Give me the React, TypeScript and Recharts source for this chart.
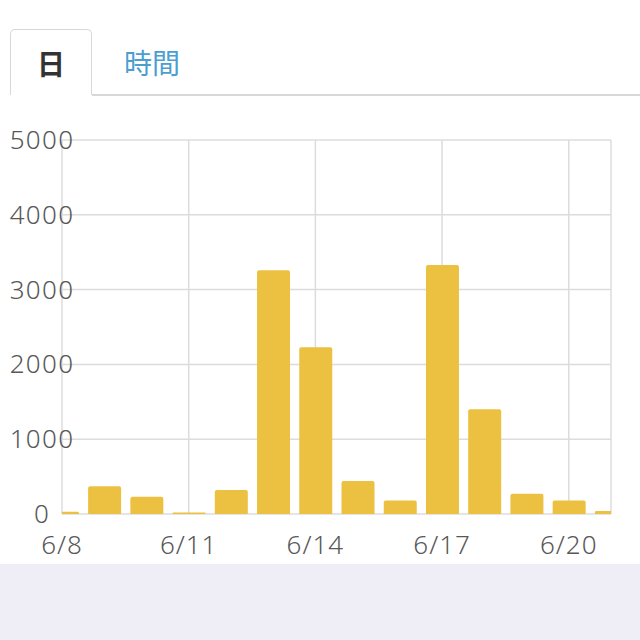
import { Bar, BarChart, CartesianGrid, XAxis, YAxis } from "recharts"

// day of June, and the daily count
const days = [8, 9, 10, 11, 12, 13, 14, 15, 16, 17, 18, 19, 20, 21]
const counts = [30, 370, 230, 20, 320, 3260, 2230, 440, 180, 3330, 1400, 270, 180, 40]
const xTicks = [8, 11, 14, 17, 20, 21]
const yTicks = [0, 1000, 2000, 3000, 4000, 5000]
const tabs = ["日", "時間"]

const data = days.map((d, i) => ({ day: d, count: counts[i] }))

const font = "'Noto Sans', 'Noto Sans CJK JP', sans-serif"
const cjk = "'Noto Sans CJK JP', sans-serif"

function XTick(props: any) {
  const { x, y, payload } = props
  if (payload.value === 21) return null
  return (
    <text x={x} y={y} dy={40} textAnchor="middle" fill="#585858" fontSize={26} fontWeight={300} letterSpacing={1} fontFamily={font}>
      6/{payload.value}
    </text>
  )
}

function YTick(props: any) {
  const { x, y, payload } = props
  return (
    <text x={x} y={y} dy={9} textAnchor="middle" fill="#585858" fontSize={26} fontWeight={300} letterSpacing={1.3} fontFamily={font}>
      {payload.value}
    </text>
  )
}

export default function App() {
  return (
    <div style={{ position: "fixed", left: 0, top: 0, width: 640, height: 640, background: "#fff", overflow: "hidden", fontFamily: cjk }}>
      <div
        style={{
          position: "absolute", left: 10, top: 29, width: 82, height: 66, boxSizing: "border-box",
          border: "1.5px solid #d8d8d8", borderBottom: "none", borderRadius: "5px 5px 0 0", background: "#fff",
          display: "flex", alignItems: "center", justifyContent: "center",
          fontSize: 28, fontWeight: 700, color: "#333",
        }}
      >
        {tabs[0]}
      </div>
      <div style={{ position: "absolute", left: 92, top: 94, width: 548, height: 1.5, background: "#d8d8d8" }} />
      <div style={{ position: "absolute", left: 124, top: 42, fontSize: 28, color: "#4a9fd0" }}>{tabs[1]}</div>

      <div style={{ position: "absolute", left: 0, top: 0 }}>
        <BarChart width={640} height={564} data={data} margin={{ top: 140, right: 29, left: 0, bottom: 0 }}>
          <CartesianGrid stroke="#dcdcdc" strokeWidth={1.5} />
          <XAxis
            dataKey="day"
            type="number"
            domain={[8, 21]}
            ticks={xTicks}
            allowDataOverflow
            axisLine={false}
            tickLine={false}
            tickSize={0}
            tickMargin={0}
            height={50}
            tick={<XTick />}
          />
          <YAxis
            domain={[0, 5000]}
            ticks={yTicks}
            axisLine={false}
            tickLine={false}
            tickSize={0}
            tickMargin={20}
            width={62}
            tick={<YTick />}
          />
          <Bar dataKey="count" fill="#ecc141" barSize={33} radius={[2, 2, 0, 0]} isAnimationActive={false} />
        </BarChart>
      </div>

      <div style={{ position: "absolute", left: 0, top: 564, width: 640, height: 76, background: "#efedf5" }} />
    </div>
  )
}
